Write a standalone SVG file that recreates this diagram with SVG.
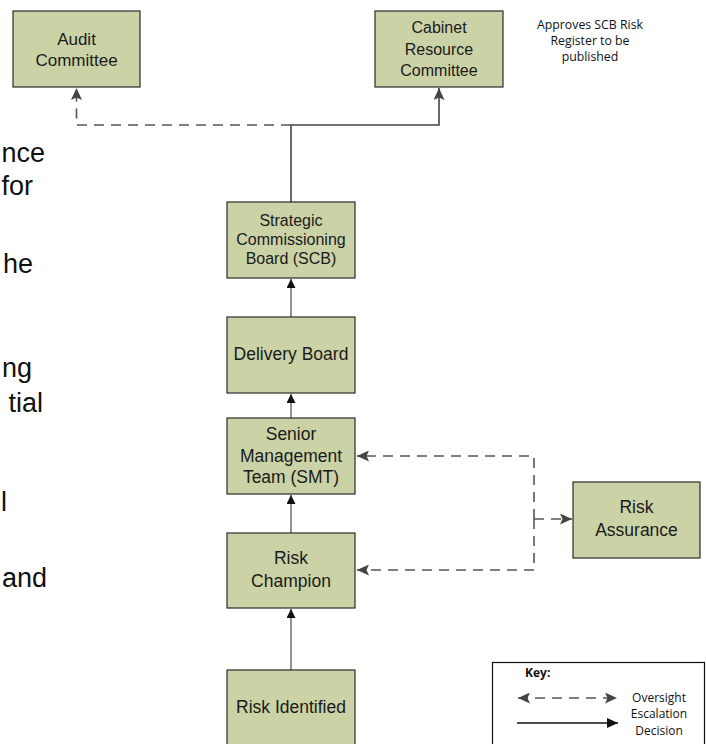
<svg xmlns="http://www.w3.org/2000/svg" width="706" height="744" viewBox="0 0 706 744">
<style>
.box{fill:#CBD3A6;stroke:#2b2b2b;stroke-width:1.2}
.t{font-family:"Liberation Sans",Arial,sans-serif;fill:#1a1a1a;text-anchor:middle}
.t16{font-size:16px}
.t17{font-size:17.5px}
.side{font-family:"Liberation Sans",Arial,sans-serif;font-size:27px;fill:#111;text-anchor:end}
.note{font-family:"Open Sans","Noto Sans",sans-serif;font-size:12.3px;fill:#111;text-anchor:middle}
.key{font-family:"Open Sans","Noto Sans",sans-serif;font-size:12px;fill:#111;text-anchor:middle}
.up{fill:none;stroke:#777;stroke-width:1.6}
.solid{fill:none;stroke:#444;stroke-width:1.6}
.dash{fill:none;stroke:#555;stroke-width:1.6;stroke-dasharray:10,7}
</style>
<defs>
<marker id="ab" viewBox="0 0 9 9" markerWidth="9" markerHeight="9" refX="9" refY="4.5" orient="auto" markerUnits="userSpaceOnUse">
<path d="M0,0 L9,4.5 L0,9 z" fill="#111"/>
</marker>
<marker id="ag" viewBox="0 0 12 11" markerWidth="12" markerHeight="11" refX="12" refY="5.5" orient="auto" markerUnits="userSpaceOnUse">
<path d="M0,0 L12,5.5 L0,11 L2.5,5.5 z" fill="#444"/>
</marker>
<marker id="ags" viewBox="0 0 12 11" markerWidth="12" markerHeight="11" refX="0" refY="5.5" orient="auto" markerUnits="userSpaceOnUse">
<path d="M12,0 L0,5.5 L12,11 L9.5,5.5 z" fill="#444"/>
</marker>
<marker id="ak" viewBox="0 0 11 10" markerWidth="11" markerHeight="10" refX="11" refY="5" orient="auto" markerUnits="userSpaceOnUse">
<path d="M0,0 L11,5 L0,10 z" fill="#111"/>
</marker>
</defs>

<g id="side-text">
<text class="side" x="45" y="162">nce</text>
<text class="side" x="33" y="195">for</text>
<text class="side" x="33" y="273">he</text>
<text class="side" x="32" y="377">ng</text>
<text class="side" x="43" y="412">tial</text>
<text class="side" x="7" y="511">l</text>
<text class="side" x="47" y="587">and</text>
</g>

<g id="connectors">
<path class="up" d="M291,317 V279" marker-end="url(#ab)"/>
<path class="up" d="M291,418 V394" marker-end="url(#ab)"/>
<path class="up" d="M291,533 V495" marker-end="url(#ab)"/>
<path class="up" d="M291,670 V609" marker-end="url(#ab)"/>
<path class="solid" d="M291,202 V125 H439 V88" marker-end="url(#ag)"/>
<path class="dash" d="M291,125 H76.5 V88" marker-end="url(#ag)"/>
<path class="dash" d="M534,519 V456 H357" marker-end="url(#ag)"/>
<path class="dash" d="M534,519 V570 H357" marker-end="url(#ag)"/>
<path class="dash" d="M534,519 H572" marker-end="url(#ag)"/>
</g>

<g id="audit-committee">
<rect class="box" x="13" y="11" width="127" height="76"/>
<text class="t" x="76.5" y="45" style="font-size:17px">Audit</text>
<text class="t" x="76.5" y="66" style="font-size:17px">Committee</text>
</g>

<g id="cabinet-resource-committee">
<rect class="box" x="375" y="11" width="128" height="76"/>
<text class="t t16" x="439" y="33">Cabinet</text>
<text class="t t16" x="439" y="55">Resource</text>
<text class="t t16" x="439" y="76">Committee</text>
</g>

<g id="approves-note">
<text class="note" x="590" y="29">Approves SCB Risk</text>
<text class="note" x="590" y="45">Register to be</text>
<text class="note" x="590" y="61">published</text>
</g>

<g id="scb">
<rect class="box" x="227" y="202" width="128" height="76"/>
<text class="t t16" x="291" y="226">Strategic</text>
<text class="t t16" x="291" y="245">Commissioning</text>
<text class="t t16" x="291" y="264">Board (SCB)</text>
</g>

<g id="delivery-board">
<rect class="box" x="227" y="317" width="128" height="76"/>
<text class="t t17" x="291" y="360">Delivery Board</text>
</g>

<g id="smt">
<rect class="box" x="227" y="418" width="128" height="76"/>
<text class="t t17" x="291" y="440">Senior</text>
<text class="t t17" x="291" y="462">Management</text>
<text class="t t17" x="291" y="483">Team (SMT)</text>
</g>

<g id="risk-champion">
<rect class="box" x="227" y="533" width="128" height="75"/>
<text class="t t17" x="291" y="564">Risk</text>
<text class="t t17" x="291" y="587">Champion</text>
</g>

<g id="risk-identified">
<rect class="box" x="227" y="670" width="128" height="80"/>
<text class="t t17" x="291" y="713">Risk Identified</text>
</g>

<g id="risk-assurance">
<rect class="box" x="573" y="482" width="127" height="76"/>
<text class="t t17" x="636.5" y="513">Risk</text>
<text class="t t17" x="636.5" y="536">Assurance</text>
</g>

<g id="key">
<rect x="492.5" y="662.5" width="212" height="90" fill="#fff" stroke="#111" stroke-width="1.2"/>
<text class="key" x="525" y="677" style="font-weight:bold;text-anchor:start">Key:</text>
<path class="dash" d="M518,698 H617" marker-start="url(#ags)" marker-end="url(#ag)"/>
<path d="M517,723 H618" stroke="#111" stroke-width="1.3" fill="none" marker-end="url(#ak)"/>
<text class="key" x="659" y="702">Oversight</text>
<text class="key" x="659" y="718">Escalation</text>
<text class="key" x="659" y="735">Decision</text>
</g>
</svg>
